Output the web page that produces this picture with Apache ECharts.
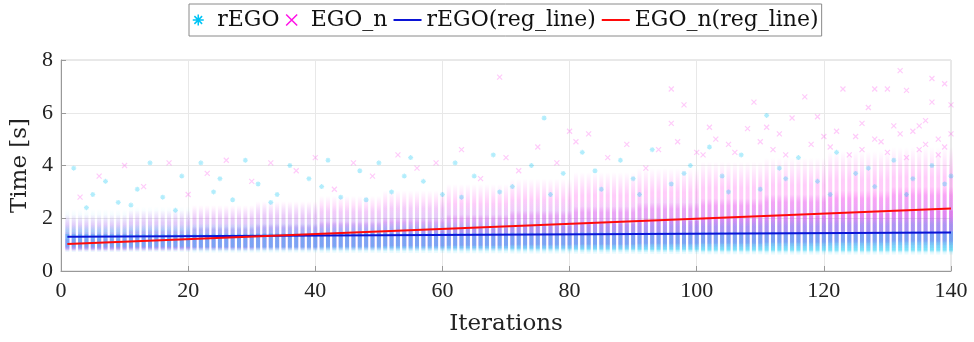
<!DOCTYPE html>
<html>
<head>
<meta charset="utf-8">
<script src="https://cdn.jsdelivr.net/npm/echarts@6/dist/echarts.min.js"></script>
<style>
  html, body { margin: 0; padding: 0; background: #fff; }
  #main { width: 974px; height: 342px; }
</style>
</head>
<body>
<div id="main"></div>
<script>
  // axis ranges
  var xRange = [0, 140];
  var yRange = [0, 8];

  // spread of run times (s) in each iteration column, one row per block of 10 iterations
  // [outer lo, outer hi, mid lo, mid hi, core lo, core hi]
  var blockSize = 10;
  var rEGOBands = [
    [0.72, 2.35, 0.80, 1.75, 0.90, 1.42],
    [0.72, 2.45, 0.80, 1.78, 0.90, 1.42],
    [0.70, 2.40, 0.78, 1.80, 0.88, 1.43],
    [0.70, 2.55, 0.78, 1.82, 0.87, 1.44],
    [0.69, 2.50, 0.77, 1.85, 0.86, 1.45],
    [0.68, 2.65, 0.76, 1.88, 0.85, 1.46],
    [0.67, 2.60, 0.75, 1.90, 0.84, 1.46],
    [0.66, 2.75, 0.74, 1.92, 0.82, 1.47],
    [0.65, 2.70, 0.73, 1.95, 0.80, 1.48],
    [0.64, 2.85, 0.72, 1.98, 0.78, 1.48],
    [0.63, 2.80, 0.71, 2.00, 0.76, 1.49],
    [0.62, 2.95, 0.70, 2.02, 0.75, 1.50],
    [0.62, 2.90, 0.70, 2.05, 0.74, 1.50],
    [0.62, 3.05, 0.70, 2.08, 0.74, 1.52]
  ];
  var egoNBands = [
    [0.75, 2.15, 0.80, 1.50, 0.85, 1.22],
    [0.76, 2.30, 0.81, 1.58, 0.86, 1.28],
    [0.77, 2.50, 0.82, 1.68, 0.87, 1.34],
    [0.78, 2.65, 0.83, 1.78, 0.88, 1.40],
    [0.79, 2.85, 0.84, 1.90, 0.90, 1.47],
    [0.80, 3.05, 0.85, 2.02, 0.92, 1.55],
    [0.80, 3.30, 0.86, 2.15, 0.94, 1.63],
    [0.81, 3.50, 0.87, 2.30, 0.96, 1.72],
    [0.82, 3.75, 0.88, 2.45, 0.98, 1.82],
    [0.83, 3.90, 0.90, 2.60, 1.00, 1.92],
    [0.84, 4.15, 0.92, 2.75, 1.02, 2.02],
    [0.85, 4.30, 0.94, 2.90, 1.04, 2.12],
    [0.86, 4.55, 0.96, 3.05, 1.06, 2.22],
    [0.87, 4.70, 0.98, 3.20, 1.08, 2.32]
  ];

  // scattered slow runs [iteration, time]
  var rEGOSparse = [
    [2, 3.9], [5, 2.9], [7, 3.4], [9, 2.6], [12, 3.1], [14, 4.1], [16, 2.8], [19, 3.6],
    [22, 4.1], [24, 3.0], [27, 2.7], [29, 4.2], [31, 3.3], [34, 2.9], [36, 4.0], [39, 3.5],
    [42, 4.2], [44, 2.8], [47, 3.8], [50, 4.1], [52, 3.0], [55, 4.3], [57, 3.4], [60, 2.9],
    [62, 4.1], [65, 3.6], [68, 4.4], [71, 3.2], [74, 4.0], [76, 5.8], [79, 3.7], [82, 4.5],
    [85, 3.1], [88, 4.2], [90, 3.5], [93, 4.6], [96, 3.3], [99, 4.0], [102, 4.7], [104, 3.6],
    [107, 4.4], [110, 3.1], [111, 5.9], [113, 3.9], [116, 4.3], [119, 3.4], [122, 4.5],
    [125, 3.7], [128, 3.2], [131, 4.2], [134, 3.5], [137, 4.0], [139, 3.3],
    [4, 2.4], [11, 2.5], [18, 2.3], [25, 3.5], [33, 2.6], [41, 3.2], [48, 2.7], [54, 3.6],
    [63, 2.8], [69, 3.0], [77, 2.9], [84, 3.8], [91, 2.9], [98, 3.7], [105, 3.0], [114, 3.5],
    [121, 2.9], [127, 3.9], [133, 2.9], [140, 3.6]
  ];
  var egoNSparse = [
    [3, 2.8], [6, 3.6], [10, 4.0], [13, 3.2], [17, 4.1], [20, 2.9], [23, 3.7], [26, 4.2],
    [30, 3.4], [33, 4.1], [37, 3.8], [40, 4.3], [43, 3.1], [46, 4.1], [49, 3.6], [53, 4.4],
    [56, 3.9], [59, 4.1], [63, 4.6], [66, 3.5], [69, 7.35], [70, 4.3], [72, 3.8], [75, 4.7],
    [78, 4.1], [80, 5.3], [81, 4.9], [83, 5.2], [86, 4.3], [89, 4.8], [92, 3.9], [94, 4.6],
    [96, 6.9], [96, 5.6], [97, 4.9], [98, 6.3], [100, 4.5], [101, 4.4], [102, 5.45], [103, 5.0],
    [105, 4.8], [106, 4.5], [108, 5.4], [109, 6.4], [110, 4.9], [111, 5.45], [112, 4.6],
    [113, 5.2], [114, 4.4], [115, 5.8], [117, 6.6], [118, 4.8], [119, 5.85], [120, 5.1],
    [121, 4.7], [122, 5.3], [123, 6.9], [124, 4.4], [125, 5.1], [126, 5.6], [127, 6.2],
    [128, 6.9], [129, 4.9], [130, 6.9], [131, 5.5], [132, 7.6], [133, 6.85], [134, 5.3],
    [135, 4.6], [136, 5.7], [137, 7.3], [137, 6.4], [138, 5.0], [139, 7.1], [140, 6.3],
    [126, 4.6], [128, 5.0], [130, 4.5], [132, 5.2], [136, 4.8], [138, 4.4], [140, 5.2],
    [133, 4.3], [135, 5.5], [139, 4.7]
  ];

  // fitted regression lines
  var rEGORegLine = [[1, 1.30], [140, 1.46]];
  var egoNRegLine = [[1, 1.02], [140, 2.37]];

  var cyan = '#00c4f5';
  var magenta = '#ff10e6';
  var blue = '#0b14d6';
  var red = '#ff0a0a';
  var asterisk = 'path://M5,0L5,10M0,5L10,5M1.5,1.5L8.5,8.5M8.5,1.5L1.5,8.5';
  var cross = 'path://M0,0L10,10M10,0L0,10';
  var bar = 'path://M0,0L28,0L28,2L0,2Z';

  // band look per series: rgb, alpha of outer/mid/core, share that fades out at the top
  var rEGOLook = { rgb: '0,196,245', alpha: [0.16, 0.2, 0.28], fade: [0.5, 0.25, 0.05] };
  var egoNLook = { rgb: '255,16,230', alpha: [0.21, 0.22, 0.24], fade: [0.3, 0.15, 0.05] };

  // one [iteration, lo, hi, layer] item per band per column
  function bandItems(bands) {
    var items = [];
    for (var it = 1; it <= xRange[1]; it++) {
      var b = bands[Math.floor((it - 1) / blockSize)];
      for (var layer = 0; layer < 3; layer++) {
        items.push([it, b[layer * 2], b[layer * 2 + 1], layer]);
      }
    }
    return items;
  }

  function bandRenderer(look) {
    return function (params, api) {
      var layer = api.value(3);
      var a = look.alpha[layer];
      var top = api.coord([api.value(0), api.value(2)]);
      var bottom = api.coord([api.value(0), api.value(1)]);
      return {
        type: 'rect',
        shape: { x: top[0] - 2, y: top[1], width: 4, height: bottom[1] - top[1] },
        style: {
          fill: new echarts.graphic.LinearGradient(0, 0, 0, 1, [
            { offset: 0, color: 'rgba(' + look.rgb + ',0)' },
            { offset: look.fade[layer], color: 'rgba(' + look.rgb + ',' + a + ')' },
            { offset: 0.92, color: 'rgba(' + look.rgb + ',' + a + ')' },
            { offset: 1, color: 'rgba(' + look.rgb + ',' + (a * 0.4) + ')' }
          ])
        }
      };
    };
  }

  var myChart = echarts.init(document.getElementById('main'));
  var numFont = { fontFamily: 'Liberation Serif', fontSize: 22, color: '#222' };

  var option = {
    animation: false,
    backgroundColor: '#fff',
    grid: {
      left: 61, right: 23, top: 60, bottom: 71,
      show: true, borderColor: '#d2d2d2', borderWidth: 1
    },
    legend: {
      left: 189, top: 4,
      padding: [5, 3],
      itemGap: 6, itemWidth: 28, itemHeight: 11,
      borderColor: '#8a8a8a', borderWidth: 1,
      textStyle: { fontFamily: 'DejaVu Serif', fontSize: 22, color: '#111' },
      data: [
        { name: 'rEGO', icon: asterisk, itemStyle: { color: 'transparent', borderColor: cyan, borderWidth: 1.5, opacity: 1 } },
        { name: 'EGO_n', icon: cross, itemStyle: { color: 'transparent', borderColor: magenta, borderWidth: 1.5, opacity: 1 } },
        { name: 'rEGO(reg_line)', icon: bar, itemStyle: { color: blue, borderWidth: 0 } },
        { name: 'EGO_n(reg_line)', icon: bar, itemStyle: { color: red, borderWidth: 0 } }
      ]
    },
    xAxis: {
      type: 'value',
      min: xRange[0], max: xRange[1], interval: 20,
      name: 'Iterations', nameLocation: 'middle', nameGap: 42,
      nameTextStyle: { fontFamily: 'DejaVu Serif', fontSize: 23, color: '#222' },
      axisLine: { lineStyle: { color: '#999' } },
      axisTick: { inside: true, length: 5, lineStyle: { color: '#999' } },
      axisLabel: Object.assign({ margin: 9 }, numFont),
      splitLine: { show: true, lineStyle: { color: '#e8e8e8' } }
    },
    yAxis: {
      type: 'value',
      min: yRange[0], max: yRange[1], interval: 2,
      name: 'Time [s]', nameLocation: 'middle', nameGap: 26, nameRotate: 90,
      nameTextStyle: { fontFamily: 'DejaVu Serif', fontSize: 23, color: '#222' },
      axisLine: { show: true, lineStyle: { color: '#999' } },
      axisTick: { show: true, inside: true, length: 5, lineStyle: { color: '#999' } },
      axisLabel: Object.assign({ margin: 8 }, numFont),
      splitLine: { show: true, lineStyle: { color: '#e8e8e8' } }
    },
    series: [
      {
        name: 'EGO_n', type: 'custom',
        renderItem: bandRenderer(egoNLook),
        encode: { x: 0, y: [1, 2] },
        data: bandItems(egoNBands)
      },
      {
        name: 'rEGO', type: 'custom',
        renderItem: bandRenderer(rEGOLook),
        encode: { x: 0, y: [1, 2] },
        data: bandItems(rEGOBands)
      },
      {
        name: 'rEGO', type: 'scatter',
        symbol: asterisk, symbolSize: 5,
        itemStyle: { color: 'transparent', borderColor: cyan, borderWidth: 1.2, opacity: 0.3 },
        data: rEGOSparse
      },
      {
        name: 'EGO_n', type: 'scatter',
        symbol: cross, symbolSize: 5,
        itemStyle: { color: 'transparent', borderColor: magenta, borderWidth: 1.2, opacity: 0.22 },
        data: egoNSparse
      },
      {
        name: 'rEGO(reg_line)', type: 'line',
        showSymbol: false, z: 5,
        lineStyle: { color: blue, width: 2 },
        itemStyle: { color: blue },
        data: rEGORegLine
      },
      {
        name: 'EGO_n(reg_line)', type: 'line',
        showSymbol: false, z: 5,
        lineStyle: { color: red, width: 2 },
        itemStyle: { color: red },
        data: egoNRegLine
      }
    ]
  };

  myChart.setOption(option);
</script>
</body>
</html>
